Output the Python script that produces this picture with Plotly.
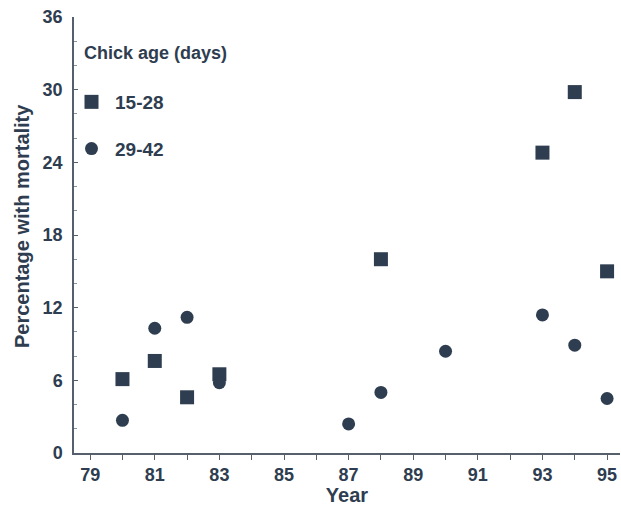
import plotly.graph_objects as go

# Mortality by year for two chick-age classes
years_15_28 = [80, 81, 82, 83, 88, 93, 94, 95]
mort_15_28 = [6.1, 7.6, 4.6, 6.5, 16.0, 24.8, 29.8, 15.0]

years_29_42 = [80, 81, 82, 83, 87, 88, 90, 93, 94, 95]
mort_29_42 = [2.7, 10.3, 11.2, 5.8, 2.4, 5.0, 8.4, 11.4, 8.9, 4.5]

x_ticks = [79, 81, 83, 85, 87, 89, 91, 93, 95]
y_ticks = [0, 6, 12, 18, 24, 30, 36]

ink = "#2e3d4f"
axis_col = "#55606c"
font_family = "Liberation Sans, Arial, sans-serif"

# plot-area geometry in pixels, used to place free text
W, H = 621, 506
L, R, T, B = 74, 1, 17, 53
pw, ph = W - L - R, H - T - B


def px_to_paper(px, py):
    return (px - L) / pw, (H - B - py) / ph


def bold(size):
    return dict(family=font_family, size=size, color=ink, weight="bold")


fig = go.Figure()

fig.add_trace(go.Scatter(
    x=years_15_28, y=mort_15_28, mode="markers", name="15-28",
    legendgroup="a",
    marker=dict(symbol="square", size=14, color=ink, line=dict(width=0)),
))

fig.add_trace(go.Scatter(
    x=years_29_42, y=mort_29_42, mode="markers", name="29-42",
    legendgroup="b",
    marker=dict(symbol="circle", size=13, color=ink, line=dict(width=0)),
))

lx, ly = px_to_paper(68, 83)
tx, ty = px_to_paper(82, 53)
ax_, ay_ = px_to_paper(22, 226)

fig.update_layout(
    width=W, height=H,
    margin=dict(l=L, r=R, t=T, b=B),
    paper_bgcolor="white", plot_bgcolor="white",
    font=bold(18),
    showlegend=True,
    legend=dict(
        x=lx, y=ly, xanchor="left", yanchor="top",
        bgcolor="rgba(0,0,0,0)",
        font=bold(19),
        tracegroupgap=19,
        itemwidth=37,
    ),
    xaxis=dict(
        range=[78.5, 95.4],
        tickvals=x_ticks, ticktext=[str(v) for v in x_ticks],
        showgrid=False, zeroline=False,
        showline=True, linecolor=axis_col, linewidth=1.5,
        ticks="outside", ticklen=5, tickcolor=axis_col,
        minor=dict(dtick=1, tick0=79, ticks="outside", ticklen=5, tickcolor=axis_col),
        tickfont=bold(18),
        title=dict(text="Year", font=bold(20), standoff=1),
    ),
    yaxis=dict(
        range=[0, 36],
        tickvals=y_ticks, ticktext=[str(v) for v in y_ticks],
        showgrid=False, zeroline=False,
        showline=True, linecolor=axis_col, linewidth=1.5,
        ticks="inside", ticklen=4, tickcolor=axis_col,
        minor=dict(dtick=2, ticks="inside", ticklen=3, tickcolor="#8a949e"),
        tickfont=bold(18),
        ticklabelstandoff=6,
    ),
    annotations=[
        dict(
            text="Percentage with mortality", textangle=-90,
            x=ax_, y=ay_, xref="paper", yref="paper",
            xanchor="center", yanchor="middle",
            showarrow=False, font=bold(20),
        ),
        dict(
            text="Chick age (days)",
            x=tx, y=ty, xref="paper", yref="paper",
            xanchor="left", yanchor="middle",
            showarrow=False, font=bold(18),
        ),
    ],
)

fig.write_html("out.html")
